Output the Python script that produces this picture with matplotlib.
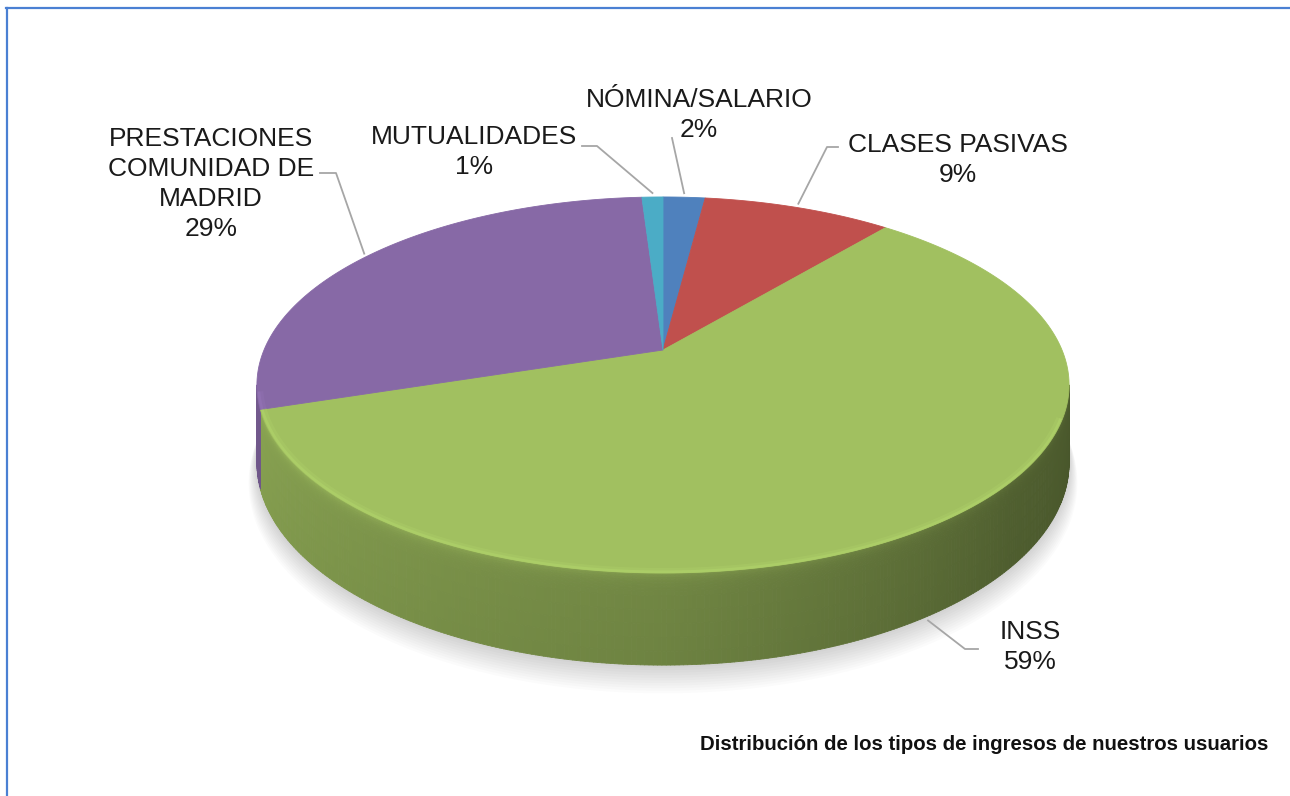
import numpy as np
import matplotlib
matplotlib.use("Agg")
import matplotlib.pyplot as plt
import matplotlib.colors as mcolors
from matplotlib.collections import PolyCollection
from matplotlib.lines import Line2D

# ---- Data ----
labels = ["NÓMINA/SALARIO", "CLASES PASIVAS", "INSS",
          "PRESTACIONES\nCOMUNIDAD DE\nMADRID", "MUTUALIDADES"]
values = [2, 9, 59, 29, 1]
colors = ["#4f81bd", "#c0504d", "#a1c060", "#8769a6", "#4bacc6"]
CAPTION = "Distribución de los tipos de ingresos de nuestros usuarios"

# ---- Layout (pixels, y down) ----
label_pos = [(699, 115), (958, 160), (1030, 647), (211, 184), (474, 152)]
leader_pts = [[(672, 138)],
              [(827, 147), (838, 147)],
              [(965, 649), (978, 649)],
              [(336, 173), (320, 173)],
              [(597, 146), (582, 146)]]

# pie projection: centre, half axes, perspective, thickness
CX, CY = 663, 350
A, B, K, H = 399, 181.5, 0.186, 75


def proj(t, r=1.0, z=0.0):
    t = np.radians(t)
    X = r * np.sin(t)
    Y = -r * np.cos(t)
    w = 1 - K * Y
    return CX + A * X / w, CY + (B * Y + H * z) / w


def shade(c, f):
    rgb = np.array(mcolors.to_rgb(c)) * f
    return tuple(np.clip(rgb, 0, 1))


def main():
    fig = plt.figure(figsize=(12.9, 7.96), dpi=100)
    ax = fig.add_axes([0, 0, 1, 1])
    ax.set_xlim(0, 1290)
    ax.set_ylim(796, 0)
    ax.axis("off")

    total = sum(values)
    bounds = np.concatenate([[0], np.cumsum(values)]) / total * 360

    # soft shadow under the front edge
    tt = np.linspace(0, 360, 361)
    for i in range(12):
        x, y = proj(tt, r=1.0 + 0.0018 * i, z=1.0 + 0.022 * i)
        ax.fill(x, y, color="#000000", alpha=0.014, lw=0, zorder=1)

    # side wall, only the visible front half
    tr = np.degrees(np.arccos(-K))
    tl = 360 - tr
    zs = np.r_[np.linspace(0, 0.2, 9), np.linspace(0.25, 1.0, 6)]
    polys, cols = [], []
    for i, c in enumerate(colors):
        a0 = max(bounds[i], tr)
        a1 = min(bounds[i + 1], tl)
        if a1 <= a0:
            continue
        ts = np.linspace(a0, a1, max(int((a1 - a0) * 2), 3))
        for ta, tb in zip(ts[:-1], ts[1:]):
            tm = 0.5 * (ta + tb)
            f = np.interp(tm, [tr, 130, 180, 230, tl], [0.46, 0.50, 0.70, 0.80, 0.86])
            for j in range(len(zs) - 1):
                zm = 0.5 * (zs[j] + zs[j + 1])
                fz = 1.0 + 0.16 * np.exp(-zm / 0.06) - 0.03 * zm
                xa0, ya0 = proj(ta, z=zs[j])
                xb0, yb0 = proj(tb, z=zs[j])
                xa1, ya1 = proj(ta, z=zs[j + 1])
                xb1, yb1 = proj(tb, z=zs[j + 1])
                polys.append([(xa0, ya0), (xb0, yb0), (xb1, yb1), (xa1, ya1)])
                cols.append(shade(c, f * fz))
    pc = PolyCollection(polys, facecolors=cols, edgecolors=cols, linewidths=0.6, zorder=2)
    ax.add_collection(pc)

    # top faces
    for i, c in enumerate(colors):
        ts = np.linspace(bounds[i], bounds[i + 1], max(int(values[i] * 4), 4))
        x, y = proj(ts)
        ax.fill(np.r_[CX, x], np.r_[CY, y], color=c, ec=c, lw=0.6, zorder=3)

    # soft rim highlight along the front edge
    for i, c in enumerate(colors):
        a0 = max(bounds[i], tr + 10)
        a1 = min(bounds[i + 1], tl - 2)
        if a1 <= a0:
            continue
        ts = np.linspace(a0, a1, 200)
        for r, lw, al in [(0.992, 4, 0.25), (0.996, 2, 0.45)]:
            x, y = proj(ts, r=r)
            ax.plot(x, y, color=shade(c, 1.12), lw=lw, alpha=al, zorder=4,
                    solid_capstyle="butt")

    # leader lines and labels
    for i, lab in enumerate(labels):
        tm = 0.5 * (bounds[i] + bounds[i + 1])
        if tr < tm < tl:
            ax_, ay_ = proj(tm, r=1.0, z=1.05)
        else:
            ax_, ay_ = proj(tm, r=1.0)
            ay_ -= 4
        pts = [(ax_, ay_)] + leader_pts[i]
        ax.plot([p[0] for p in pts], [p[1] for p in pts], color="#a6a6a6", lw=1.3, zorder=5)
        pct = values[i] / total * 100
        ax.text(label_pos[i][0], label_pos[i][1], f"{lab}\n{pct:.0f}%",
                ha="center", va="center", fontsize=19, linespacing=1.32,
                color="#1a1a1a", family="Liberation Sans", zorder=6)

    ax.text(1268, 745, CAPTION, ha="right", va="center", fontsize=14.7,
            fontweight="bold", color="#111111", family="Liberation Sans")

    # frame lines (top and left)
    fig.add_artist(Line2D([6 / 1290, 1], [1 - 8 / 796] * 2,
                          transform=fig.transFigure, color="#4a80d3", lw=1.6))
    fig.add_artist(Line2D([6.5 / 1290] * 2, [0, 1 - 8 / 796],
                          transform=fig.transFigure, color="#4a80d3", lw=1.6))

    fig.savefig("out.png", dpi=100)
    plt.close(fig)


if __name__ == "__main__":
    main()
